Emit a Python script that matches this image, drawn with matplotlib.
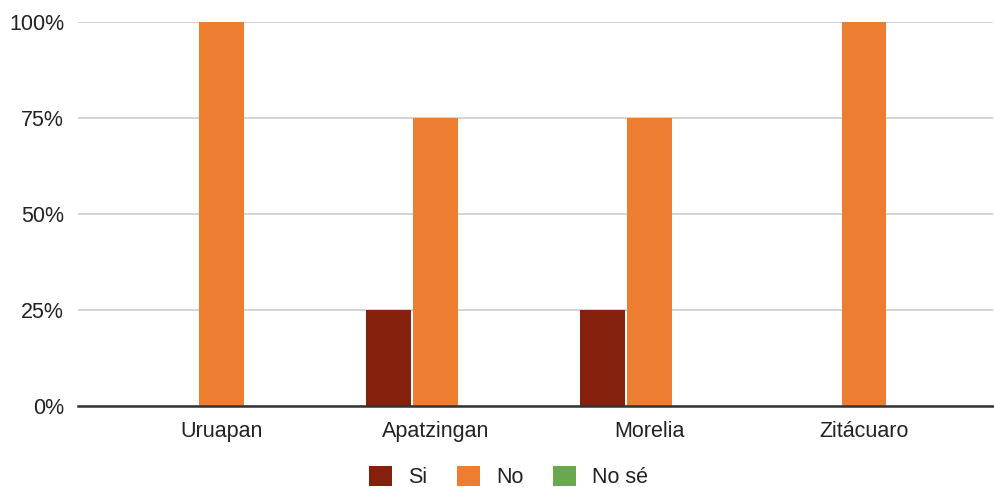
import matplotlib
matplotlib.use("Agg")
import matplotlib.pyplot as plt
import numpy as np
from matplotlib.ticker import FuncFormatter

plt.rcParams['font.family'] = ['Liberation Sans', 'DejaVu Sans']

categories = ["Uruapan", "Apatzingan", "Morelia", "Zitácuaro"]
series_names = ["Si", "No", "No sé"]
si_values = [0, 25, 25, 0]
no_values = [100, 75, 75, 100]
nose_values = [0, 0, 0, 0]
y_ticks = [0, 25, 50, 75, 100]

colors = ["#85200C", "#ED7D31", "#6AA84F"]

W, H = 994, 487
fig = plt.figure(figsize=(W / 100, H / 100), dpi=100)
ax = fig.add_axes([78 / W, 1 - 405.7 / H, (993 - 78) / W, (405.7 - 22.3) / H])

x = np.arange(len(categories))
bar_w = 0.208
step = 0.219
for i, (vals, name, col) in enumerate(zip([si_values, no_values, nose_values], series_names, colors)):
    ax.bar(x + (i - 1) * step, vals, width=bar_w, color=col, label=name, zorder=3, linewidth=0)

ax.set_xlim(-0.669, 3.603)
ax.set_ylim(0, 100)
ax.set_yticks(y_ticks)
ax.yaxis.set_major_formatter(FuncFormatter(lambda v, p: f"{int(v)}%"))
ax.set_xticks(x)
ax.set_xticklabels(categories)
ax.tick_params(axis='both', length=0, labelsize=15.5, colors="#222222")
ax.tick_params(axis='y', pad=10)
ax.tick_params(axis='x', pad=11)

ax.grid(axis='y', color="#CCCCCC", linewidth=1.2, zorder=0)
ax.set_axisbelow(True)
for s in ["top", "right", "left"]:
    ax.spines[s].set_visible(False)
ax.spines["bottom"].set_color("#333333")
ax.spines["bottom"].set_linewidth(1.8)
ax.spines["bottom"].set_zorder(4)

fig.legend(loc='center', bbox_to_anchor=(0.5116, 0.02), ncol=3, frameon=False,
           fontsize=15.5, handlelength=1.07, handleheight=1.07,
           handletextpad=0.74, columnspacing=1.4, borderpad=0,
           labelcolor="#222222")

fig.savefig("out.png", dpi=100)
